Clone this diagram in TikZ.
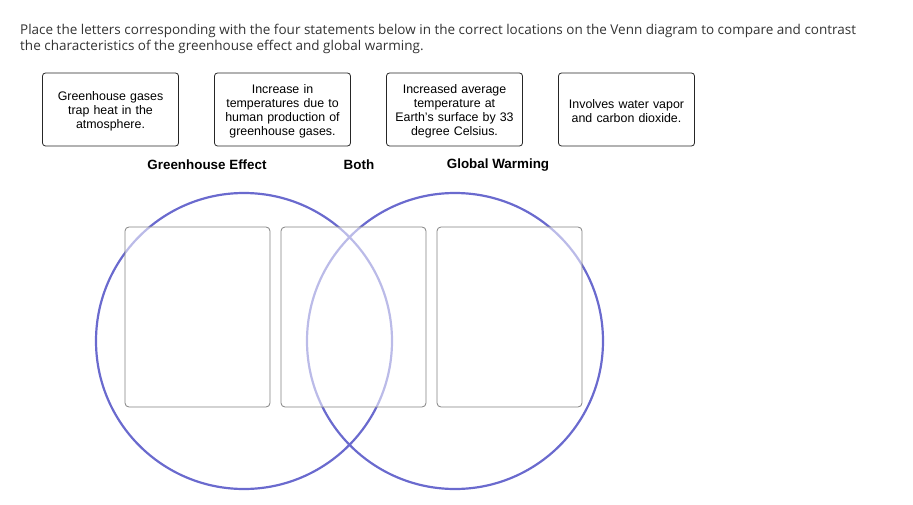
\documentclass[tikz,border=0pt]{standalone}
\usepackage{fontspec}
\setmainfont{Liberation Sans}
\newfontfamily\promptfont{Open Sans}
\usepackage{xcolor}
\usetikzlibrary{positioning}

\definecolor{vennblue}{RGB}{106,106,206}
\definecolor{prompttext}{RGB}{51,51,51}
\definecolor{dropedge}{RGB}{130,130,130}
\newcommand{\cardtop}{\rule{0pt}{13pt}}

\begin{document}
\begin{tikzpicture}[
  x=1pt, y=-1pt,
  node distance=36pt,
  card/.style={draw=black!85, rounded corners=3pt, align=center, outer sep=0pt,
               minimum width=136pt, minimum height=73pt, text width=124pt,
               font=\fontsize{12.4}{14}\selectfont, line width=0.8pt, fill=white},
  dropbox/.style={draw=dropedge, rounded corners=4pt, outer sep=0pt,
                  minimum width=145pt, minimum height=180pt,
                  fill=white, fill opacity=0.55, line width=0.8pt},
  head/.style={font=\fontsize{13.4}{15}\selectfont\bfseries},
  venn/.style={draw=vennblue, line width=2.2pt}
]
\useasboundingbox (0,0) rectangle (913,505);

% instructions
\node[anchor=north west, align=left, inner sep=0pt, text=prompttext,
      font=\promptfont\fontsize{13.5}{16}\selectfont] (prompt) at (20,24)
  {Place the letters corresponding with the four statements below in the correct locations on the Venn diagram to compare and contrast\\
   the characteristics of the greenhouse effect and global warming.};

% statement cards
\node[card] (gases) at (110.5,109.5) {\cardtop Greenhouse gases\\trap heat in the\\atmosphere.};
\node[card, right=of gases] (human) {\cardtop Increase in\\temperatures due to\\human production of\\greenhouse gases.};
\node[card, right=of human] (earth) {\cardtop Increased average\\temperature at\\Earth's surface by 33\\degree Celsius.};
\node[card, right=of earth] (vapor) {\cardtop Involves water vapor\\and carbon dioxide.};

% column headings
\node[head] (gelabel) at (207,164.5) {Greenhouse Effect};
\node[head] (bothlabel) at (359,164.5) {Both};
\node[head] (gwlabel) at (498,165.5) {Global Warming};

% venn circles
\draw[venn] (244,341) circle (148pt);
\draw[venn] (455,341) circle (148pt);

% drop zones
\node[dropbox] (gezone) at (197.5,317) {};
\node[dropbox, right=11pt of gezone] (bothzone) {};
\node[dropbox, right=11pt of bothzone] (gwzone) {};
\end{tikzpicture}
\end{document}
